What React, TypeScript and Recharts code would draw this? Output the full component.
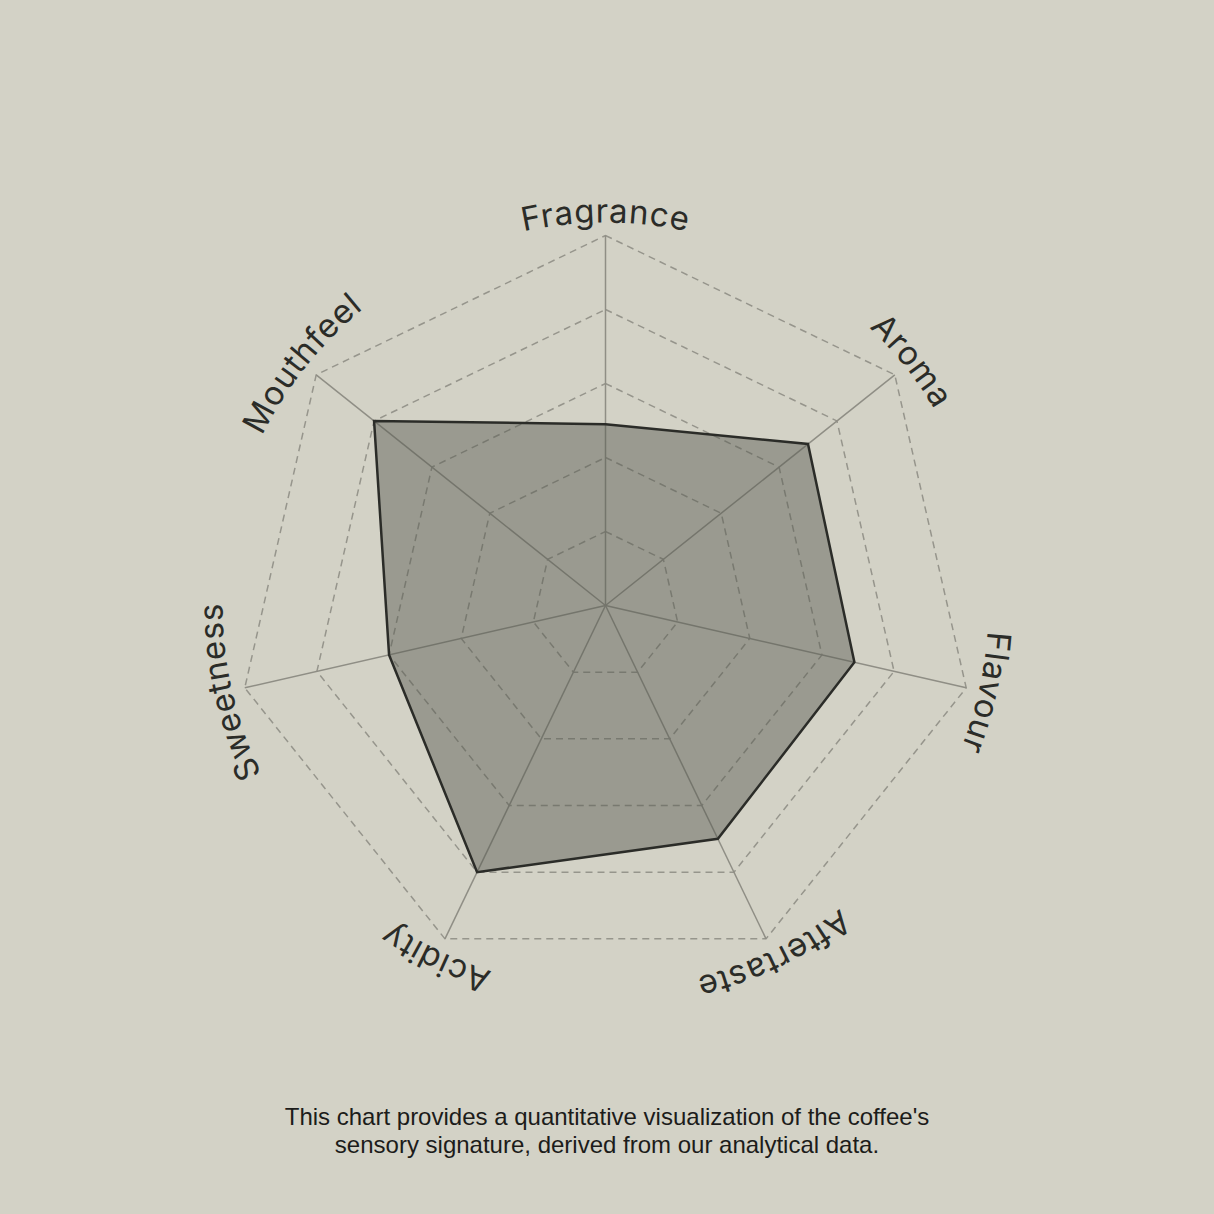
import React from "react";
import {
  RadarChart,
  Radar,
  PolarGrid,
  PolarAngleAxis,
  PolarRadiusAxis,
} from "recharts";

const CATEGORIES = [
  "Fragrance",
  "Aroma",
  "Flavour",
  "Aftertaste",
  "Acidity",
  "Sweetness",
  "Mouthfeel",
];
const SCORES = [4.9, 7.0, 6.9, 7.0, 8.0, 6.0, 8.0];
const RING_TICKS = [0, 2, 4, 6, 8, 10];
const CAPTION_LINES = [
  "This chart provides a quantitative visualization of the coffee's",
  "sensory signature, derived from our analytical data.",
];

const SIZE = 1214;
const CX = 605.5;
const CY = 605.5;
const OUTER = 370;
const LABEL_R = 383;
const BG = "#d3d2c6";
const INK = "#2b2c28";

const chartData = CATEGORIES.map((name, i) => ({
  axis: name,
  score: SCORES[i],
}));

// label bent along an arc, like the reference
function ArcLabel(props: any) {
  const { payload } = props;
  const i = CATEGORIES.indexOf(payload.value);
  const deg = (i * 360) / CATEGORIES.length;
  const pt = (d: number) => {
    const r = (d * Math.PI) / 180;
    return [CX + LABEL_R * Math.sin(r), CY - LABEL_R * Math.cos(r)];
  };
  const [x1, y1] = pt(deg - 80);
  const [x2, y2] = pt(deg + 80);
  const id = `arc-${i}`;
  return (
    <g>
      <path
        id={id}
        d={`M ${x1} ${y1} A ${LABEL_R} ${LABEL_R} 0 0 1 ${x2} ${y2}`}
        fill="none"
        stroke="none"
      />
      <text
        fill={INK}
        fontFamily="Inter, 'Noto Sans', sans-serif"
        fontSize={33}
        letterSpacing={0.8}
      >
        <textPath href={`#${id}`} startOffset="50%" textAnchor="middle">
          {payload.value}
        </textPath>
      </text>
    </g>
  );
}

export default function App() {
  return (
    <div
      style={{
        position: "absolute",
        left: 0,
        top: 0,
        width: SIZE,
        height: SIZE,
        background: BG,
        overflow: "hidden",
      }}
    >
      <RadarChart
        width={SIZE}
        height={SIZE}
        data={chartData}
        cx={CX}
        cy={CY}
        outerRadius={OUTER}
        margin={{ top: 0, right: 0, bottom: 0, left: 0 }}
      >
        {/* dashed rings */}
        <PolarGrid
          gridType="polygon"
          radialLines={false}
          stroke="#96958c"
          strokeWidth={1.5}
          strokeDasharray="7 5"
        />
        {/* solid spokes */}
        <PolarGrid
          gridType="polygon"
          polarRadius={[]}
          stroke="#8f8e85"
          strokeWidth={1.5}
        />
        <PolarAngleAxis
          dataKey="axis"
          axisLine={false}
          tickLine={false}
          tick={<ArcLabel />}
        />
        <PolarRadiusAxis
          domain={[0, 10]}
          ticks={RING_TICKS}
          tickCount={6}
          tick={false}
          axisLine={false}
        />
        <Radar
          dataKey="score"
          stroke={INK}
          strokeWidth={2.5}
          fill="#55564e"
          fillOpacity={0.45}
          isAnimationActive={false}
        />
      </RadarChart>
      <div
        style={{
          position: "absolute",
          left: 0,
          width: SIZE,
          top: 1103,
          textAlign: "center",
          fontFamily: "'Liberation Sans', Arial, sans-serif",
          fontSize: 24,
          lineHeight: "28px",
          color: "#1c1c1a",
        }}
      >
        {CAPTION_LINES.map((line) => (
          <div key={line}>{line}</div>
        ))}
      </div>
    </div>
  );
}
